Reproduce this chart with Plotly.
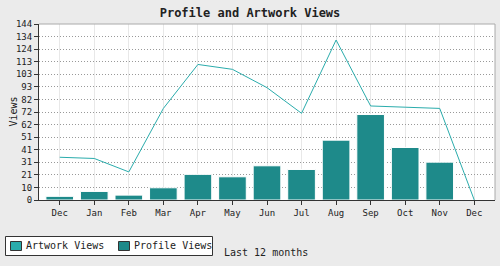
import plotly.graph_objects as go

months = ["Dec", "Jan", "Feb", "Mar", "Apr", "May", "Jun", "Jul", "Aug", "Sep", "Oct", "Nov", "Dec"]
profile_views = [3, 7, 4, 10, 21, 19, 28, 25, 49, 70, 43, 31, 0]
artwork_views = [35, 34, 23, 75, 111, 107, 92, 71, 131, 77, 76, 75, 0]
y_tick_labels = ["0", "10", "21", "31", "41", "51", "62", "72", "82", "93", "103", "113", "124", "134", "144"]
y_max = 144.13

xs = list(range(len(months)))
step = y_max / (len(y_tick_labels) - 1)
y_tick_vals = [i * step for i in range(len(y_tick_labels))]

BAR = "#1e8a8a"
LINE = "#2aacac"
FONT = "DejaVu Sans Mono"
TXT = "#222"

# plot area in pixels: x 39..495, y 24..200
L, R, T, B = 39, 495, 24, 200
def px(x):
    return (x - L) / (R - L)
def py(y):
    return (B - y) / (B - T)

fig = go.Figure()
fig.add_trace(go.Bar(
    x=xs, y=profile_views, name="Profile Views",
    marker=dict(color=BAR, line=dict(color="white", width=1)),
    width=0.8, showlegend=False,
))
fig.add_trace(go.Scatter(
    x=xs, y=artwork_views, name="Artwork Views", mode="lines",
    line=dict(color=LINE, width=1), showlegend=False,
))

shapes = [
    dict(type="line", xref="paper", yref="paper", x0=0, x1=1, y0=1, y1=1,
         line=dict(color="#aaaaaa", width=1), layer="above"),
    dict(type="line", xref="paper", yref="paper", x0=1, x1=1, y0=0, y1=1,
         line=dict(color="#aaaaaa", width=1), layer="above"),
    # legend box
    dict(type="rect", xref="paper", yref="paper", x0=px(5.5), x1=px(212.5), y0=py(236.5), y1=py(255.5),
         fillcolor="white", line=dict(color="#333", width=1)),
    dict(type="rect", xref="paper", yref="paper", x0=px(10.5), x1=px(21.5), y0=py(241.5), y1=py(250.5),
         fillcolor=LINE, line=dict(color="#333", width=1)),
    dict(type="rect", xref="paper", yref="paper", x0=px(118.5), x1=px(129.5), y0=py(241.5), y1=py(250.5),
         fillcolor=BAR, line=dict(color="#333", width=1)),
]

annotations = [
    dict(text="Artwork Views", xref="paper", yref="paper", x=px(24), y=py(246),
         xanchor="left", yanchor="middle", showarrow=False,
         font=dict(size=10, family=FONT, color=TXT)),
    dict(text="Profile Views", xref="paper", yref="paper", x=px(132), y=py(246),
         xanchor="left", yanchor="middle", showarrow=False,
         font=dict(size=10, family=FONT, color=TXT)),
    dict(text="Last 12 months", xref="paper", yref="paper", x=px(266), y=py(252),
         xanchor="center", yanchor="middle", showarrow=False,
         font=dict(size=10, family=FONT, color=TXT)),
    dict(text="Views", xref="paper", yref="paper", x=px(12.5), y=py(112),
         xanchor="center", yanchor="middle", showarrow=False, textangle=-90,
         font=dict(size=10, family=FONT, color=TXT)),
]

fig.update_layout(
    width=500, height=266,
    margin=dict(l=L, r=500 - R, t=T, b=266 - B),
    paper_bgcolor="#ebebeb",
    plot_bgcolor="white",
    font=dict(family=FONT, size=10, color=TXT),
    title=dict(text="<b>Profile and Artwork Views</b>", x=0.5, xanchor="center",
               y=1 - 12.5 / 266, yanchor="middle", font=dict(size=12, family=FONT, color=TXT)),
    showlegend=False,
    xaxis=dict(
        range=[-0.6, 12.6], tickmode="array", tickvals=xs, ticktext=months,
        showgrid=True, gridcolor="#e8e8e8", gridwidth=1,
        showline=True, linecolor="#333", linewidth=1,
        ticks="outside", ticklen=4, tickcolor="#333",
        tickfont=dict(size=9, family=FONT, color=TXT), zeroline=False,
    ),
    yaxis=dict(
        range=[0, y_max], tickmode="array", tickvals=y_tick_vals, ticktext=y_tick_labels,
        showgrid=True, gridcolor="#999", gridwidth=1, griddash="1px,2px",
        showline=True, linecolor="#333", linewidth=1,
        ticks="outside", ticklen=4, tickcolor="#333",
        tickfont=dict(size=9, family=FONT, color=TXT), zeroline=False,
    ),
    shapes=shapes,
    annotations=annotations,
)

fig.write_html("out.html")
